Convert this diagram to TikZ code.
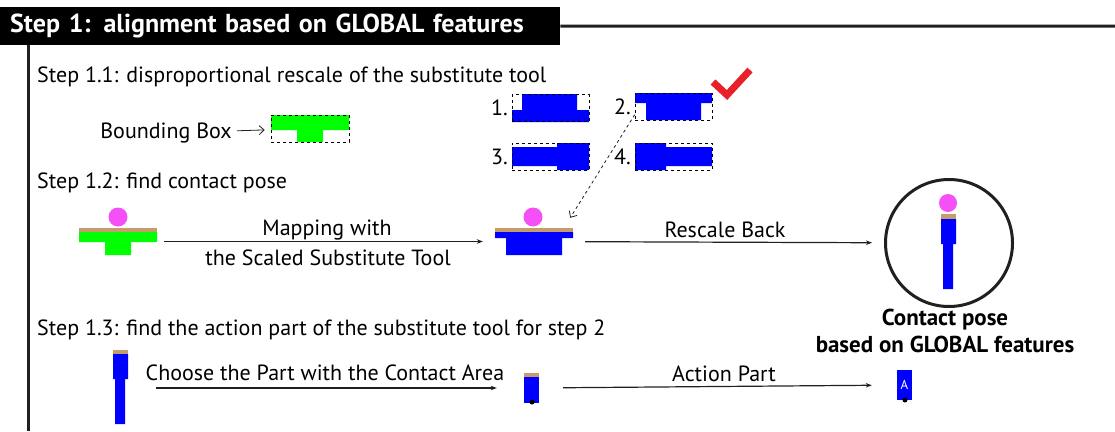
\documentclass[tikz,border=0pt]{standalone}
\usepackage{fontspec}
\setmainfont{PT Sans}
\usetikzlibrary{arrows.meta}
\definecolor{toolblue}{RGB}{0,0,255}
\definecolor{toolgreen}{RGB}{0,255,0}
\definecolor{tiptan}{RGB}{198,156,109}
\definecolor{ballpink}{RGB}{245,80,245}
\definecolor{checkred}{RGB}{232,32,42}
\definecolor{framegray}{RGB}{35,31,32}
\begin{document}
\begin{tikzpicture}[>={Stealth[length=6pt,width=4.5pt]},x=1pt,y=-1pt,
	lbl/.style={font=\fontsize{22}{24}\selectfont,inner sep=0pt},
	flow/.style={->,line width=1.2pt,draw=framegray},
	hint/.style={-{Straight Barb[length=5pt,width=9pt]},line width=0.8pt,draw=framegray},
	optbox/.style={draw,dashed,line width=0.6pt,inner sep=0pt,minimum width=77pt,minimum height=27pt},
	set/.style={inner sep=0pt}]
	\useasboundingbox (0,0) rectangle (1115,431);
	\node[fill=black,text=white,font=\fontsize{26}{28}\selectfont\bfseries,anchor=north west,inner xsep=10pt,inner ysep=0pt,text width=540pt,minimum height=38pt] (title) at (0,7) {Step 1: alignment based on GLOBAL features};
	\coordinate (rightend) at (1115,26);
	\coordinate (leftend) at (28,431);
	\draw[line width=3pt,framegray] (title.east) -- (rightend);
	\draw[line width=3pt,framegray] (leftend |- title.south) -- (leftend);
	\node[lbl,anchor=west] (s11) at (37,77) {Step 1.1: disproportional rescale of the substitute tool};
	\node[lbl,anchor=west] (s12) at (37,183) {Step 1.2: find contact pose};
	\node[lbl,anchor=west] (s13) at (37,330) {Step 1.3: find the action part of the substitute tool for step 2};
	\node[lbl,anchor=east] (bbtext) at (232,133) {Bounding Box};
	\fill[toolgreen] (271,115) rectangle (349,130) (297,130) rectangle (323,142);
	\node[optbox,minimum width=78pt] (bb) at (310,128.5) {};
	\draw[hint,shorten <=5pt,shorten >=6pt] (bbtext) -- (bb);
	\fill[toolblue] (522,94) rectangle (577,122) (512,110) rectangle (589,122);
	\node[optbox] (opt1) at (550.5,108) {};
	\fill[toolblue] (635,93) rectangle (712,103) (646,103) rectangle (701,120);
	\node[optbox] (opt2) at (673.5,106.5) {};
	\fill[toolblue] (512,147) rectangle (557,166) (557,143) rectangle (589,170);
	\node[optbox] (opt3) at (550.5,156.5) {};
	\fill[toolblue] (635,143) rectangle (666,170) (666,147) rectangle (712,166);
	\node[optbox] (opt4) at (673.5,156.5) {};
	\node[lbl,anchor=east] (n1) at (opt1.west) {1.\,};
	\node[lbl,anchor=east] (n2) at (opt2.west) {2.\,};
	\node[lbl,anchor=east] (n3) at (opt3.west) {3.\,};
	\node[lbl,anchor=east] (n4) at (opt4.west) {4.\,};
	\draw[checkred,line width=7pt] (713,82) -- (727,95) -- (750,70);
	\fill[ballpink] (118,217) circle (9.5pt);
	\fill[tiptan] (79,228) rectangle (157,232);
	\fill[toolgreen] (79,232) rectangle (157,242) (105,242) rectangle (131,255);
	\node[set,minimum width=78pt,minimum height=27pt] (greenset) at (118,241.5) {};
	\fill[ballpink] (533,217) circle (9.5pt);
	\fill[tiptan] (495,228) rectangle (573,232);
	\fill[toolblue] (495,232) rectangle (573,238) (506,238) rectangle (562,255);
	\node[set,minimum width=78pt,minimum height=27pt] (blueset) at (534,241.5) {};
	\node[lbl] (map1) at (327,230) {Mapping with};
	\node[lbl] (map2) at (328,258) {the Scaled Substitute Tool};
	\draw[flow,shorten <=7pt,shorten >=12pt] (greenset) -- (blueset);
	\draw[hint,dashed] (n2.south east) -- ([shift={(-3,-10)}]blueset.north east);
	\node[circle,draw=framegray,line width=3pt,minimum size=127pt,inner sep=0pt] (pose) at (949,243) {};
	\fill[ballpink] (948,203) circle (9pt);
	\fill[tiptan] (941,214) rectangle (956,219);
	\fill[toolblue] (941,219) rectangle (956,244) (943,244) rectangle (953,289);
	\node[lbl] (resc) at (725,230) {Rescale Back};
	\draw[flow,shorten <=12pt,shorten >=12pt] (blueset) -- (pose);
	\node[font=\fontsize{23}{27}\selectfont\bfseries,align=center,inner sep=0pt] (posetext) at (945,330.5) {Contact pose\\based on GLOBAL features};
	\fill[tiptan] (113,350) rectangle (128,354);
	\fill[toolblue] (113,354) rectangle (128,379) (115,379) rectangle (125,424);
	\node[set,minimum width=15pt,minimum height=74pt] (talltool) at (120.5,387) {};
	\fill[tiptan] (524,373) rectangle (539,377);
	\fill[toolblue] (524,377) rectangle (539,403);
	\node[set,minimum width=15pt,minimum height=30pt] (part) at (531.5,388) {};
	\fill (532,402) circle (2.5pt);
	\node[lbl] (choose) at (325,373) {Choose the Part with the Contact Area};
	\draw[flow,shorten <=28pt,shorten >=27pt] (talltool.east |- part) -- (part);
	\node[set,fill=toolblue,text=white,font=\fontsize{13}{14}\selectfont,minimum width=15pt,minimum height=30pt] (actpart) at (904.5,385) {A};
	\fill (905,400) circle (2.5pt);
	\node[lbl] (act) at (724,374) {Action Part};
	\draw[flow,shorten <=24pt,shorten >=25pt] (part) -- (actpart);
\end{tikzpicture}
\end{document}
